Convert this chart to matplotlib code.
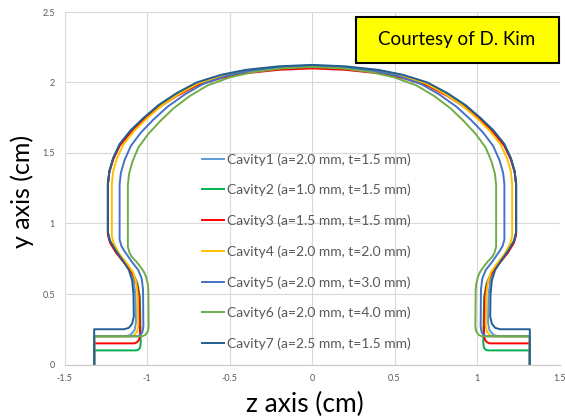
import matplotlib.pyplot as plt
from matplotlib.patches import Rectangle

plt.rcParams['font.family'] = ['Lato', 'DejaVu Sans']

# legend text and colours, Cavity1 .. Cavity7
labels = ['Cavity1 (a=2.0 mm, t=1.5 mm)', 'Cavity2 (a=1.0 mm, t=1.5 mm)',
          'Cavity3 (a=1.5 mm, t=1.5 mm)', 'Cavity4 (a=2.0 mm, t=2.0 mm)',
          'Cavity5 (a=2.0 mm, t=3.0 mm)', 'Cavity6 (a=2.0 mm, t=4.0 mm)',
          'Cavity7 (a=2.5 mm, t=1.5 mm)']
colors = ['#5B9BD5', '#00B050', '#FF0000', '#FFC000', '#4472C4', '#70AD47', '#255E91']

x_ticks = [-1.5, -1, -0.5, 0, 0.5, 1, 1.5]
x_tick_labels = ['-1.5', '-1', '-0.5', '0', '0.5', '1', '1.5']
y_ticks = [0, 0.5, 1, 1.5, 2, 2.5]
y_tick_labels = ['0', '0.5', '1', '1.5', '2', '2.5']

# right half of each profile (z >= 0), top -> beam pipe
cav1_z = [0, 0.2, 0.4, 0.55, 0.7, 0.82, 0.93, 1.02, 1.10, 1.165, 1.205, 1.228, 1.237,
          1.237, 1.225, 1.19, 1.14, 1.10, 1.08, 1.07, 1.067, 1.075, 1.10, 1.13, 1.32, 1.32]
cav1_y = [2.12, 2.11, 2.085, 2.05, 1.995, 1.92, 1.835, 1.745, 1.655, 1.56, 1.46, 1.37, 1.28,
          0.93, 0.87, 0.80, 0.725, 0.665, 0.59, 0.49, 0.30, 0.245, 0.21, 0.20, 0.20, 0.0]

cav2_z = [0, 0.2, 0.4, 0.55, 0.7, 0.82, 0.93, 1.02, 1.10, 1.165, 1.205, 1.228, 1.237,
          1.237, 1.222, 1.186, 1.13, 1.088, 1.058, 1.043, 1.038, 1.042, 1.052, 1.065, 1.32, 1.32]
cav2_y = [2.115, 2.105, 2.08, 2.045, 1.99, 1.915, 1.83, 1.742, 1.652, 1.557, 1.458, 1.368, 1.28,
          0.925, 0.865, 0.795, 0.715, 0.655, 0.575, 0.475, 0.15, 0.12, 0.105, 0.10, 0.10, 0.0]

cav3_z = [0, 0.2, 0.4, 0.55, 0.7, 0.82, 0.93, 1.02, 1.10, 1.165, 1.205, 1.228, 1.237,
          1.237, 1.222, 1.185, 1.13, 1.09, 1.06, 1.047, 1.042, 1.048, 1.06, 1.075, 1.32, 1.32]
cav3_y = [2.10, 2.09, 2.066, 2.032, 1.978, 1.905, 1.822, 1.735, 1.645, 1.552, 1.455, 1.366, 1.28,
          0.92, 0.86, 0.79, 0.71, 0.65, 0.57, 0.47, 0.21, 0.175, 0.158, 0.15, 0.15, 0.0]

cav4_z = [0, 0.196, 0.392, 0.54, 0.687, 0.805, 0.913, 1.001, 1.08, 1.143, 1.183, 1.205, 1.213,
          1.213, 1.20, 1.168, 1.12, 1.085, 1.065, 1.056, 1.053, 1.06, 1.075, 1.095, 1.32, 1.32]
cav4_y = [2.12, 2.11, 2.085, 2.05, 1.995, 1.92, 1.835, 1.745, 1.655, 1.56, 1.46, 1.37, 1.28,
          0.91, 0.855, 0.785, 0.715, 0.655, 0.58, 0.48, 0.28, 0.235, 0.21, 0.20, 0.20, 0.0]

cav5_z = [0, 0.189, 0.377, 0.519, 0.66, 0.773, 0.877, 0.962, 1.037, 1.098, 1.136, 1.158, 1.166,
          1.166, 1.155, 1.14, 1.093, 1.053, 1.032, 1.024, 1.022, 1.028, 1.042, 1.06, 1.32, 1.32]
cav5_y = [2.12, 2.11, 2.083, 2.047, 1.99, 1.914, 1.827, 1.736, 1.645, 1.55, 1.45, 1.36, 1.28,
          0.885, 0.84, 0.81, 0.73, 0.67, 0.61, 0.53, 0.27, 0.23, 0.207, 0.20, 0.20, 0.0]

cav6_z = [0, 0.181, 0.361, 0.497, 0.632, 0.741, 0.84, 0.921, 0.993, 1.052, 1.088, 1.109, 1.116,
          1.116, 1.105, 1.093, 1.065, 1.042, 1.02, 1.006, 0.995, 0.992, 0.99, 0.995, 1.01, 1.03,
          1.32, 1.32]
cav6_y = [2.11, 2.10, 2.073, 2.037, 1.98, 1.904, 1.816, 1.725, 1.634, 1.54, 1.44, 1.35, 1.27,
          0.835, 0.79, 0.765, 0.73, 0.695, 0.66, 0.623, 0.57, 0.528, 0.27, 0.235, 0.21, 0.20,
          0.20, 0.0]

cav7_z = [0, 0.2, 0.4, 0.55, 0.7, 0.82, 0.93, 1.02, 1.10, 1.165, 1.205, 1.228, 1.237,
          1.237, 1.225, 1.19, 1.145, 1.11, 1.09, 1.082, 1.08, 1.09, 1.11, 1.14, 1.32, 1.32]
cav7_y = [2.125, 2.115, 2.09, 2.055, 2.0, 1.925, 1.84, 1.75, 1.66, 1.565, 1.465, 1.372, 1.28,
          0.94, 0.88, 0.81, 0.735, 0.67, 0.595, 0.50, 0.34, 0.29, 0.26, 0.25, 0.25, 0.0]

profiles = [(cav1_z, cav1_y), (cav2_z, cav2_y), (cav3_z, cav3_y), (cav4_z, cav4_y),
            (cav5_z, cav5_y), (cav6_z, cav6_y), (cav7_z, cav7_y)]


def full_profile(z_half, y_half):
    # cavity is symmetric, mirror the right half onto the left
    z = [-v for v in reversed(z_half)] + list(z_half)
    y = list(reversed(y_half)) + list(y_half)
    return z, y


fig = plt.figure(figsize=(5.65, 4.19), dpi=100)
ax = fig.add_axes([64.5 / 565, 54.5 / 419, 495 / 565, 352.5 / 419])

for (zh, yh), lab, col in zip(profiles, labels, colors):
    z, y = full_profile(zh, yh)
    ax.plot(z, y, color=col, lw=1.4, label=lab, solid_joinstyle='round')

ax.set_xlim(-1.5, 1.5)
ax.set_ylim(0, 2.5)
ax.set_xticks(x_ticks)
ax.set_xticklabels(x_tick_labels)
ax.set_yticks(y_ticks)
ax.set_yticklabels(y_tick_labels)
ax.grid(color='#D9D9D9', lw=0.8)
ax.set_axisbelow(True)
for s in ['top', 'left', 'right']:
    ax.spines[s].set_visible(False)
ax.spines['bottom'].set_color('#C8C8C8')
ax.spines['bottom'].set_linewidth(0.8)
ax.tick_params(length=0, labelsize=6.5, labelcolor='#595959', pad=7)

ax.legend(loc='upper left', bbox_to_anchor=(0.278, 0.600), frameon=False, fontsize=10,
          labelcolor='#595959', handlelength=1.55, handletextpad=0.25, labelspacing=1.31,
          borderpad=0, borderaxespad=0)

fig.text(305 / 565, 1 - 404 / 419, 'z axis (cm)', ha='center', va='center', fontsize=19)
fig.text(22 / 565, 1 - 191 / 419, 'y axis (cm)', ha='center', va='center', fontsize=18,
         rotation=90)

fig.patches.append(Rectangle((356 / 565, 1 - 63 / 419), 203 / 565, 46 / 419,
                             transform=fig.transFigure, fc='#FFFF00', ec='black', lw=1.5))
fig.text(457 / 565, 1 - 40 / 419, 'Courtesy of D. Kim', ha='center', va='center', fontsize=13.5)

fig.savefig('out.png', dpi=100)
